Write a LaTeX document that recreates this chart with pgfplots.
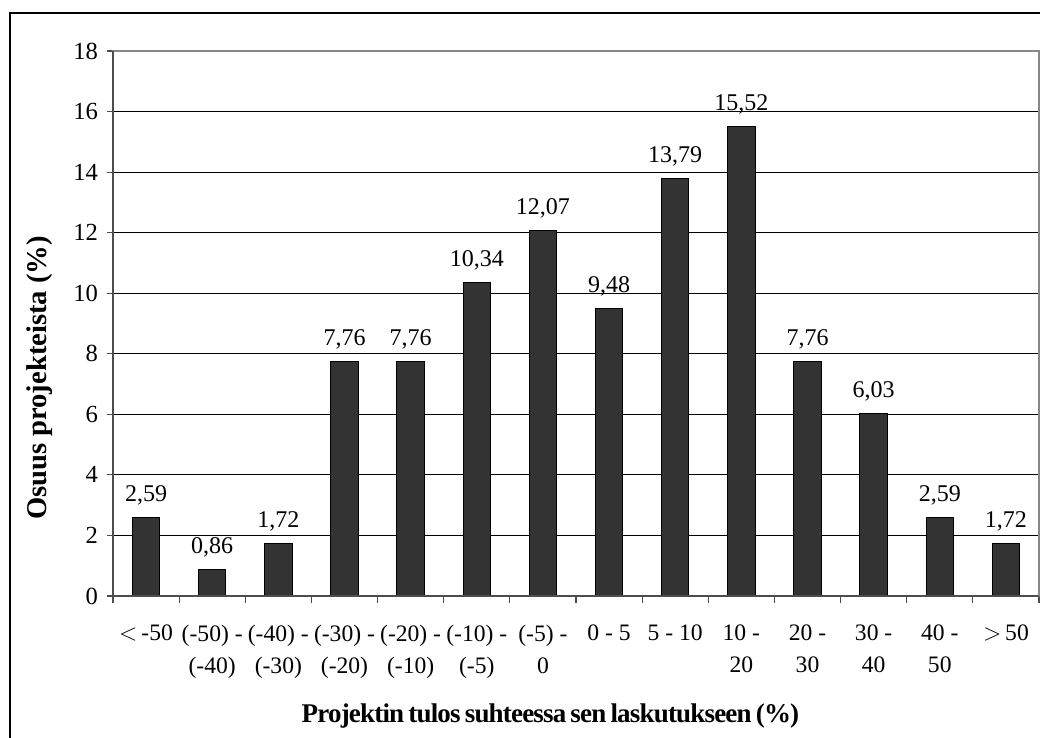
\documentclass[border=0pt]{standalone}
\usepackage{pgfplots}
\pgfplotsset{compat=1.18}
\usepackage{fontspec}
\setmainfont{Liberation Serif}
\newfontfamily\xtitlefont[LetterSpace=-3,WordSpace=0.7]{Liberation Serif}
\definecolor{barfill}{HTML}{333333}
\definecolor{boxgray}{HTML}{888888}
\definecolor{axisdark}{HTML}{4D4D4D}

\begin{document}
\begin{tikzpicture}
\useasboundingbox (0,0) rectangle (520pt,369pt);
% outer chart frame
\draw[line width=0.9pt, black] (5pt,-3pt) -- (5pt,362.5pt) -- (523pt,362.5pt);
\begin{axis}[
  at={(56.5pt,71pt)}, anchor=south west,
  scale only axis, width=463pt, height=272.5pt,
  xmin=0.5, xmax=14.5, ymin=0, ymax=18,
  ytick={0,2,...,18},
  xtick={1,...,14},
  minor xtick={0.5,1.5,...,14.5},
  xtick pos=bottom, ytick pos=left,
  xticklabels={{$<$\,-50},{(-50) -\\(-40)},{(-40) -\\(-30)},{(-30) -\\(-20)},{(-20) -\\(-10)},{(-10) -\\(-5)},{(-5) -\\0},{0 - 5},{5 - 10},{10 -\\20},{20 -\\30},{30 -\\40},{40 -\\50},{$>$\,50}},
  /pgf/number format/assume math mode=true,
  tick align=outside,
  major x tick style={draw=none},
  minor x tick style={axisdark, line width=0.6pt},
  minor tick length=3.5pt,
  major tick length=3pt,
  y tick style={axisdark, line width=0.6pt},
  ymajorgrids,
  grid style={black, line width=0.5pt},
  axis line style={boxgray, line width=0.8pt},
  tick label style={font=\fontsize{12.3}{16}\selectfont},
  xticklabel style={font=\fontsize{11.8}{16}\selectfont, align=center, anchor=north, yshift=-8pt},
  yticklabel style={xshift=-1pt},
  ylabel={\textbf{Osuus projekteista (\%)}},
  xlabel={\textbf{Projektin tulos suhteessa sen laskutukseen (\%)}},
  ylabel style={font=\fontsize{14.3}{17}\selectfont, at={(rel axis cs:-0.0788,0.40)}, anchor=center},
  xlabel style={font=\xtitlefont\fontsize{13.5}{16}\selectfont, at={(rel axis cs:0.472,-0.22)}, anchor=center},
  ybar, bar width=13.75pt, bar shift=0pt,
  nodes near coords,
  nodes near coords style={font=\fontsize{12}{14}\selectfont, anchor=base, yshift=8pt,
    /pgf/number format/.cd, fixed, fixed zerofill, precision=2, use comma},
  clip=false,
]
\addplot[fill=barfill, draw=black, line width=0.5pt] coordinates {
  (1,2.59) (2,0.86) (3,1.72) (4,7.76) (5,7.76) (6,10.34) (7,12.07)
  (8,9.48) (9,13.79) (10,15.52) (11,7.76) (12,6.03) (13,2.59) (14,1.72)
};
% darker left and bottom axis lines
\draw[axisdark, line width=1pt] (rel axis cs:0,1) -- (rel axis cs:0,0) -- (rel axis cs:1,0);
\end{axis}
\end{tikzpicture}
\end{document}
